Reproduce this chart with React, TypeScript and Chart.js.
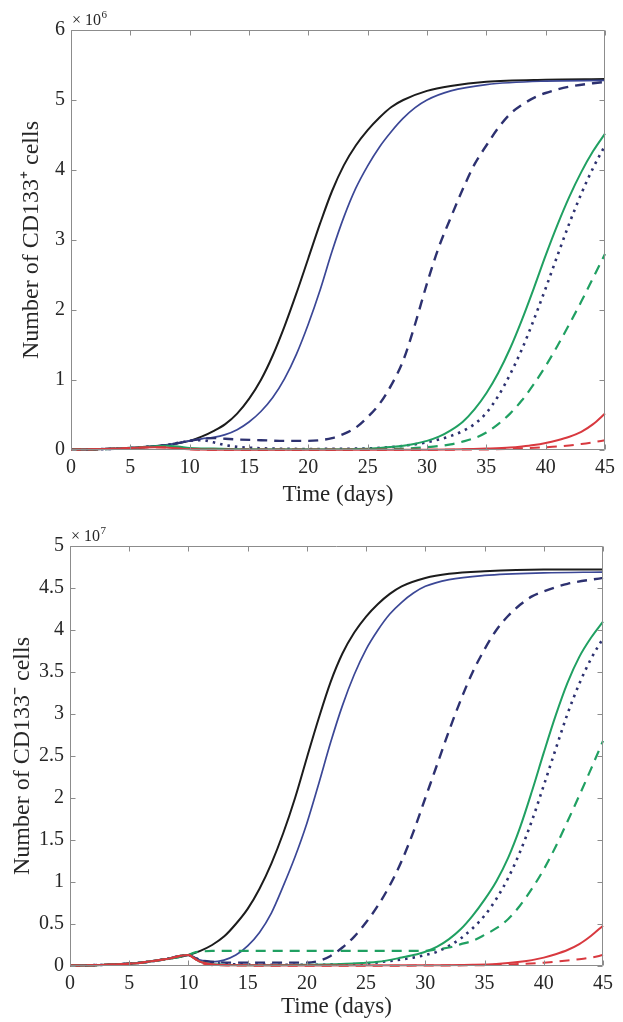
import React, { useEffect, useRef } from "react";
import { Chart, registerables } from "chart.js";

Chart.register(...registerables);

type Pt = [number, number];

// ---------- shared axis data ----------
const xTickValues = [0, 5, 10, 15, 20, 25, 30, 35, 40, 45];
const topYTickValues = [0, 1, 2, 3, 4, 5, 6];
const botYTickValues = [0, 0.5, 1, 1.5, 2, 2.5, 3, 3.5, 4, 4.5, 5];
const xTitle = "Time (days)";
const topYTitle = "Number of CD133\u207A cells";
const botYTitle = "Number of CD133\u207B cells";
const topExponent = "6";
const botExponent = "7";

// ---------- top panel (units of 10^6) ----------
const topEarly: Pt[] = [[0, 0.005], [2, 0.01], [4, 0.02], [6, 0.04], [8, 0.07], [10, 0.13]];
const topBlack: Pt[] = [...topEarly, [11, 0.19], [12, 0.27], [13, 0.37], [14, 0.52], [15, 0.73], [16, 1.0], [17, 1.35], [18, 1.77], [19, 2.24], [20, 2.74], [21, 3.24], [22, 3.7], [23, 4.07], [24, 4.35], [25, 4.57], [26, 4.75], [27, 4.9], [28, 5.0], [30, 5.13], [32, 5.2], [35, 5.26], [40, 5.29], [45, 5.3]];
const topBlueSolid: Pt[] = [...topEarly, [11, 0.16], [12, 0.18], [13, 0.22], [14, 0.29], [15, 0.4], [16, 0.55], [17, 0.75], [18, 1.02], [19, 1.37], [20, 1.8], [21, 2.29], [22, 2.84], [23, 3.33], [24, 3.74], [25, 4.06], [26, 4.33], [27, 4.55], [28, 4.74], [29, 4.89], [30, 5.0], [32, 5.13], [35, 5.22], [40, 5.27], [45, 5.28]];
const topBlueDashed: Pt[] = [...topEarly, [11, 0.16], [12, 0.17], [13, 0.16], [14, 0.15], [16, 0.14], [18, 0.13], [20, 0.13], [21, 0.14], [22, 0.17], [23, 0.23], [24, 0.32], [25, 0.47], [26, 0.66], [27, 0.93], [28, 1.28], [29, 1.8], [30, 2.38], [31, 2.9], [32, 3.32], [33, 3.72], [34, 4.08], [35, 4.35], [36, 4.6], [37, 4.8], [38, 4.93], [39, 5.03], [40, 5.1], [42, 5.19], [45, 5.26]];
const topBlueDotted: Pt[] = [...topEarly, [11, 0.14], [12, 0.11], [13, 0.07], [14, 0.045], [16, 0.025], [20, 0.015], [24, 0.02], [26, 0.03], [28, 0.06], [30, 0.11], [31, 0.15], [32, 0.2], [33, 0.27], [34, 0.37], [35, 0.53], [36, 0.77], [37, 1.08], [38, 1.44], [39, 1.86], [40, 2.31], [41, 2.78], [42, 3.24], [43, 3.66], [44, 4.03], [45, 4.35]];
const topGreenSolid: Pt[] = [[0, 0.005], [2, 0.01], [4, 0.02], [6, 0.04], [8, 0.06], [9, 0.05], [10, 0.03], [12, 0.02], [15, 0.01], [20, 0.01], [24, 0.015], [26, 0.03], [28, 0.06], [29, 0.09], [30, 0.13], [31, 0.19], [32, 0.28], [33, 0.4], [34, 0.58], [35, 0.81], [36, 1.1], [37, 1.45], [38, 1.86], [39, 2.31], [40, 2.78], [41, 3.22], [42, 3.62], [43, 3.97], [44, 4.27], [45, 4.52]];
const topGreenDashed: Pt[] = [[0, 0.005], [2, 0.01], [4, 0.02], [6, 0.04], [8, 0.05], [9, 0.04], [10, 0.02], [12, 0.01], [20, 0.005], [26, 0.01], [28, 0.02], [30, 0.04], [32, 0.08], [33, 0.12], [34, 0.17], [35, 0.25], [36, 0.37], [37, 0.52], [38, 0.71], [39, 0.94], [40, 1.2], [41, 1.49], [42, 1.8], [43, 2.12], [44, 2.46], [45, 2.8]];
const topRedSolid: Pt[] = [[0, 0.005], [2, 0.01], [4, 0.02], [6, 0.035], [7, 0.04], [8, 0.035], [9, 0.02], [10, 0.01], [12, 0.005], [20, 0.002], [30, 0.005], [33, 0.01], [35, 0.02], [37, 0.035], [38, 0.05], [39, 0.07], [40, 0.1], [41, 0.14], [42, 0.19], [43, 0.26], [44, 0.37], [45, 0.52]];
const topRedDashed: Pt[] = [[0, 0.005], [2, 0.01], [4, 0.02], [6, 0.035], [7, 0.04], [8, 0.035], [9, 0.02], [10, 0.01], [12, 0.004], [20, 0.002], [35, 0.008], [38, 0.025], [40, 0.04], [41, 0.05], [42, 0.065], [43, 0.085], [44, 0.11], [45, 0.14]];

// ---------- bottom panel (units of 10^7) ----------
const botEarly: Pt[] = [[0, 0.005], [2, 0.01], [4, 0.02], [6, 0.04], [8, 0.08], [10, 0.13]];
const botBlack: Pt[] = [...botEarly, [11, 0.18], [12, 0.25], [13, 0.35], [14, 0.5], [15, 0.68], [16, 0.92], [17, 1.22], [18, 1.58], [19, 2.0], [20, 2.48], [21, 2.95], [22, 3.38], [23, 3.72], [24, 3.97], [25, 4.16], [26, 4.31], [27, 4.43], [28, 4.52], [30, 4.62], [32, 4.67], [35, 4.7], [40, 4.72], [45, 4.72]];
const botBlueSolid: Pt[] = [...botEarly, [10.5, 0.1], [11, 0.07], [12, 0.05], [13, 0.07], [14, 0.13], [15, 0.24], [16, 0.4], [17, 0.63], [18, 0.95], [19, 1.3], [20, 1.7], [21, 2.17], [22, 2.66], [23, 3.1], [24, 3.47], [25, 3.77], [26, 4.0], [27, 4.19], [28, 4.33], [29, 4.44], [30, 4.52], [32, 4.6], [35, 4.65], [40, 4.68], [45, 4.69]];
const botBlueDashed: Pt[] = [...botEarly, [10.5, 0.1], [11, 0.07], [12, 0.05], [14, 0.04], [20, 0.04], [21, 0.06], [22, 0.12], [23, 0.22], [24, 0.35], [25, 0.52], [26, 0.72], [27, 0.96], [28, 1.25], [29, 1.6], [30, 2.0], [31, 2.4], [32, 2.8], [33, 3.17], [34, 3.5], [35, 3.77], [36, 4.0], [37, 4.17], [38, 4.3], [39, 4.4], [40, 4.46], [42, 4.55], [45, 4.62]];
const botBlueDotted: Pt[] = [...botEarly, [10.5, 0.1], [11, 0.07], [12, 0.04], [14, 0.02], [20, 0.015], [25, 0.03], [27, 0.06], [29, 0.1], [30, 0.13], [31, 0.17], [32, 0.24], [33, 0.33], [34, 0.45], [35, 0.6], [36, 0.8], [37, 1.05], [38, 1.36], [39, 1.73], [40, 2.15], [41, 2.58], [42, 3.0], [43, 3.36], [44, 3.66], [45, 3.9]];
const botGreenSolid: Pt[] = [...botEarly, [10.5, 0.09], [11, 0.05], [12, 0.02], [15, 0.01], [20, 0.015], [24, 0.03], [26, 0.05], [28, 0.1], [29, 0.13], [30, 0.17], [31, 0.23], [32, 0.32], [33, 0.44], [34, 0.6], [35, 0.79], [36, 1.01], [37, 1.29], [38, 1.65], [39, 2.08], [40, 2.54], [41, 2.98], [42, 3.37], [43, 3.68], [44, 3.91], [45, 4.1]];
const botGreenDashed: Pt[] = [...botEarly, [10.5, 0.16], [11, 0.17], [12, 0.18], [30, 0.18], [31, 0.2], [32, 0.22], [33, 0.26], [34, 0.3], [35, 0.37], [36, 0.45], [37, 0.56], [38, 0.72], [39, 0.92], [40, 1.15], [41, 1.42], [42, 1.72], [43, 2.03], [44, 2.35], [45, 2.68]];
const botRedSolid: Pt[] = [...botEarly, [10.5, 0.09], [11, 0.05], [12, 0.02], [14, 0.008], [20, 0.005], [30, 0.008], [34, 0.015], [36, 0.025], [38, 0.05], [39, 0.07], [40, 0.1], [41, 0.14], [42, 0.19], [43, 0.26], [44, 0.36], [45, 0.48]];
const botRedDashed: Pt[] = [...botEarly, [10.5, 0.09], [11, 0.04], [12, 0.01], [20, 0.003], [35, 0.01], [38, 0.025], [40, 0.04], [42, 0.065], [43, 0.08], [44, 0.1], [45, 0.13]];

// ---------- styles ----------
type Style = { color: string; width: number; dash: number[] };
const STYLES: Record<string, Style> = {
  black: { color: "#1c1c1c", width: 2, dash: [] },
  blue: { color: "#3b4796", width: 1.7, dash: [] },
  blueDash: { color: "#2d3170", width: 2.4, dash: [10, 7] },
  blueDot: { color: "#2d3170", width: 2.6, dash: [2.5, 5] },
  green: { color: "#20a062", width: 2, dash: [] },
  greenDash: { color: "#20a062", width: 2.2, dash: [10, 7] },
  red: { color: "#d8393f", width: 2, dash: [] },
  redDash: { color: "#d8393f", width: 2, dash: [10, 7] },
};

const FONT = '"Liberation Serif", "Times New Roman", serif';
const TEXT = "#262626";

function makeDataset(label: string, pts: Pt[], style: Style) {
  return {
    label,
    data: pts.map(([x, y]) => ({ x, y })),
    borderColor: style.color,
    borderWidth: style.width,
    borderDash: style.dash,
    borderCapStyle: "butt" as const,
    pointRadius: 0,
    fill: false,
    cubicInterpolationMode: "monotone" as const,
    clip: 3,
  };
}

function framePlugin(exp: string) {
  return {
    id: "frameTicks",
    afterDraw(chart: any) {
      const { ctx, chartArea: a, scales } = chart;
      ctx.save();
      ctx.strokeStyle = "#8c8c8c";
      ctx.lineWidth = 1;
      const L = Math.round(a.left) + 0.5;
      const R = Math.round(a.right) - 0.5;
      const T = Math.round(a.top) + 0.5;
      const B = Math.round(a.bottom) - 0.5;
      ctx.beginPath();
      ctx.rect(L, T, R - L, B - T);
      ctx.stroke();
      const tl = 5;
      ctx.beginPath();
      for (const t of scales.x.ticks) {
        const px = Math.round(scales.x.getPixelForValue(t.value)) + 0.5;
        ctx.moveTo(px, B);
        ctx.lineTo(px, B - tl);
        ctx.moveTo(px, T);
        ctx.lineTo(px, T + tl);
      }
      for (const t of scales.y.ticks) {
        const py = Math.round(scales.y.getPixelForValue(t.value)) + 0.5;
        ctx.moveTo(L, py);
        ctx.lineTo(L + tl, py);
        ctx.moveTo(R, py);
        ctx.lineTo(R - tl, py);
      }
      ctx.stroke();
      ctx.fillStyle = TEXT;
      ctx.textBaseline = "alphabetic";
      ctx.textAlign = "left";
      ctx.font = `16px ${FONT}`;
      const base = "\u00D7 10";
      ctx.fillText(base, a.left + 1, a.top - 5);
      const w = ctx.measureText(base).width;
      ctx.font = `11px ${FONT}`;
      ctx.fillText(exp, a.left + 1 + w + 0.5, a.top - 12);
      ctx.restore();
    },
  };
}

type PanelProps = {
  height: number;
  top: number;
  plotTop: number;
  plotBottom: number;
  plotLeft: number;
  plotRight: number;
  yMax: number;
  yTicks: number[];
  yTitle: string;
  yTitlePad: number;
  xTitlePad: number;
  exp: string;
  series: { label: string; pts: Pt[]; style: Style }[];
};

function Panel(p: PanelProps) {
  const ref = useRef<HTMLCanvasElement | null>(null);
  useEffect(() => {
    if (!ref.current) return;
    const width = 623;
    const chart = new Chart(ref.current, {
      type: "line",
      data: {
        datasets: p.series.map((s) => makeDataset(s.label, s.pts, s.style)),
      },
      options: {
        animation: false,
        responsive: false,
        maintainAspectRatio: false,
        devicePixelRatio: 1,
        layout: {
          autoPadding: false,
          padding: { top: p.plotTop, right: width - p.plotRight, left: 0, bottom: 0 },
        },
        plugins: { legend: { display: false }, tooltip: { enabled: false } },
        scales: {
          x: {
            type: "linear",
            min: 0,
            max: 45,
            grid: { display: false, drawTicks: false },
            border: { display: false },
            afterBuildTicks: (s: any) => {
              s.ticks = xTickValues.map((v) => ({ value: v }));
            },
            afterFit: (s: any) => {
              s.height = p.height - p.plotBottom;
            },
            ticks: {
              autoSkip: false,
              maxRotation: 0,
              padding: 6,
              color: TEXT,
              font: { family: FONT, size: 20 },
              callback: (v: any) => String(v),
            },
            title: {
              display: true,
              text: xTitle,
              color: TEXT,
              font: { family: FONT, size: 23 },
              padding: { top: 0, bottom: p.xTitlePad },
            },
          },
          y: {
            type: "linear",
            min: 0,
            max: p.yMax,
            grid: { display: false, drawTicks: false },
            border: { display: false },
            afterBuildTicks: (s: any) => {
              s.ticks = p.yTicks.map((v) => ({ value: v }));
            },
            afterFit: (s: any) => {
              s.width = p.plotLeft;
            },
            ticks: {
              autoSkip: false,
              padding: 6,
              color: TEXT,
              font: { family: FONT, size: 20 },
              callback: (v: any) => String(v),
            },
            title: {
              display: true,
              text: p.yTitle,
              color: TEXT,
              font: { family: FONT, size: 24 },
              padding: { top: p.yTitlePad, bottom: 0 },
            },
          },
        },
      },
      plugins: [framePlugin(p.exp)],
    } as any);
    return () => chart.destroy();
  }, []);
  return (
    <canvas
      ref={ref}
      width={623}
      height={p.height}
      style={{ position: "absolute", left: 0, top: p.top, width: 623, height: p.height }}
    />
  );
}

export default function App() {
  const topSeries = [
    { label: "red", pts: topRedSolid, style: STYLES.red },
    { label: "red dashed", pts: topRedDashed, style: STYLES.redDash },
    { label: "green", pts: topGreenSolid, style: STYLES.green },
    { label: "green dashed", pts: topGreenDashed, style: STYLES.greenDash },
    { label: "blue dotted", pts: topBlueDotted, style: STYLES.blueDot },
    { label: "blue dashed", pts: topBlueDashed, style: STYLES.blueDash },
    { label: "blue", pts: topBlueSolid, style: STYLES.blue },
    { label: "black", pts: topBlack, style: STYLES.black },
  ];
  const botSeries = [
    { label: "red", pts: botRedSolid, style: STYLES.red },
    { label: "red dashed", pts: botRedDashed, style: STYLES.redDash },
    { label: "green", pts: botGreenSolid, style: STYLES.green },
    { label: "green dashed", pts: botGreenDashed, style: STYLES.greenDash },
    { label: "blue dotted", pts: botBlueDotted, style: STYLES.blueDot },
    { label: "blue dashed", pts: botBlueDashed, style: STYLES.blueDash },
    { label: "blue", pts: botBlueSolid, style: STYLES.blue },
    { label: "black", pts: botBlack, style: STYLES.black },
  ];
  return (
    <div style={{ position: "absolute", left: 0, top: 0, width: 623, height: 1022, background: "#fff", overflow: "hidden" }}>
      <Panel
        height={512}
        top={0}
        plotTop={30}
        plotBottom={450}
        plotLeft={71}
        plotRight={605}
        yMax={6}
        yTicks={topYTickValues}
        yTitle={topYTitle}
        yTitlePad={17}
        xTitlePad={3}
        exp={topExponent}
        series={topSeries}
      />
      <Panel
        height={510}
        top={512}
        plotTop={34}
        plotBottom={454}
        plotLeft={70}
        plotRight={603}
        yMax={5}
        yTicks={botYTickValues}
        yTitle={botYTitle}
        yTitlePad={8}
        xTitlePad={1}
        exp={botExponent}
        series={botSeries}
      />
    </div>
  );
}
